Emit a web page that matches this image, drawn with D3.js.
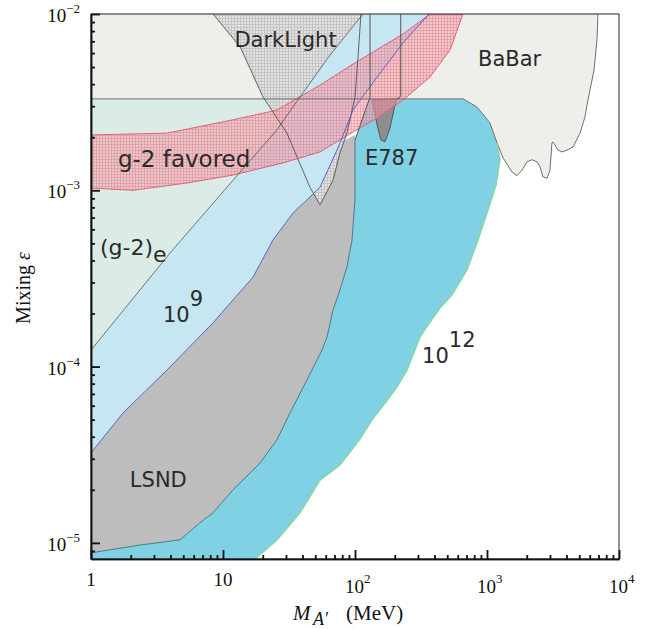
<!DOCTYPE html>
<html>
<head>
<meta charset="utf-8">
<script src="https://cdn.jsdelivr.net/npm/d3@7"></script>
<style>
  body { margin: 0; background: #fff; }
  .lab { font-family: "DejaVu Sans", sans-serif; fill: #2a2a2a; }
  .num { font-family: "Liberation Serif", "DejaVu Serif", serif; fill: #111; }
</style>
</head>
<body>
<div id="chart"></div>
<script>
// all points are [mass in MeV, mixing epsilon]

// lower edge of the (g-2)_e exclusion = upper edge of the 10^9 band
const gm2eEdge = [[1, 1.24e-4], [3.97, 4.41e-4], [11.9, 1.14e-3], [25.6, 2.2e-3], [38.3, 3.38e-3], [64.7, 5.85e-3], [115, 1e-2]]

// lower edge of the 10^9 band = upper edge of LSND
const band9Edge = [[1, 3.24e-5], [1.75, 5.46e-5], [3.77, 9.57e-5], [8.4, 1.77e-4], [11.9, 2.39e-4], [16.9, 3.22e-4], [23.9, 5.22e-4],
    [33.9, 7.43e-4], [45.6, 9.16e-4], [54.3, 1.04e-3], [73.1, 1.69e-3], [96.6, 2.85e-3], [147, 4.39e-3], [231, 6.85e-3], [364, 1e-2]]

const lsndTop = [[84, 1.93e-3], [100, 2.06e-3]]
const lsndLower = [[1, 8.77e-6], [2.35, 9.72e-6], [4.72, 1.04e-5], [6.69, 1.3e-5], [8.4, 1.48e-5], [11.9, 2e-5], [19.1, 2.84e-5],
    [25.6, 3.84e-5], [32.2, 5.46e-5], [43.3, 8.4e-5], [56.2, 1.24e-4], [61.4, 1.47e-4], [68.1, 2.09e-4], [76.9, 2.72e-4],
    [86.9, 3.67e-4], [94.9, 5.22e-4], [100, 8.82e-4], [100, 1.93e-3]]

// 10^12 contour, from its top left corner clockwise
const band12Edge = [[113, 2.51e-3], [130, 3.3e-3], [658, 3.3e-3], [839, 2.97e-3], [1054, 2.41e-3], [1190, 1.86e-3], [1254, 1.49e-3],
    [1170, 1.07e-3], [1018, 7.73e-4], [855, 5.22e-4], [705, 3.53e-4], [543, 2.55e-4], [440, 2.15e-4], [370, 1.79e-4],
    [311, 1.47e-4], [248, 9.57e-5], [208, 7.66e-5], [169, 6.22e-5], [135, 5.0e-5], [108, 3.84e-5], [76.9, 2.77e-5],
    [54.3, 2.27e-5], [38.3, 1.48e-5], [25.6, 1.04e-5], [17.5, 8.11e-6], [1, 8.11e-6]]

const babarEdge = [[1, 1e-2], [6927, 1e-2], [6813, 7.13e-3], [6470, 4.81e-3], [6030, 3.71e-3], [5725, 3.05e-3], [5523, 2.6e-3],
    [5066, 2.11e-3], [4484, 1.76e-3], [4036, 1.69e-3], [3700, 1.65e-3], [3451, 1.69e-3], [3162, 1.88e-3], [3105, 1.86e-3],
    [3000, 1.3e-3], [2849, 1.17e-3], [2655, 1.19e-3], [2523, 1.36e-3], [2393, 1.45e-3], [2193, 1.49e-3], [2009, 1.45e-3],
    [1841, 1.3e-3], [1688, 1.21e-3], [1547, 1.27e-3], [1321, 1.53e-3], [1190, 1.86e-3], [1054, 2.41e-3], [839, 2.97e-3],
    [658, 3.3e-3], [1, 3.3e-3]]

const darkLight = [[8.4, 1e-2], [13.5, 6.5e-3], [20.1, 3.38e-3], [30.5, 2.11e-3], [45.6, 1.04e-3], [54.3, 8.26e-4], [68.1, 1.14e-3],
    [76.9, 1.63e-3], [86.9, 2.11e-3], [100, 3.38e-3], [105, 5.48e-3], [111, 1e-2]]

const gm2Upper = [[1, 2.06e-3], [3.77, 2.11e-3], [11.9, 2.51e-3], [25.6, 2.85e-3], [54.3, 3.95e-3], [96.6, 5.2e-3], [231, 7.7e-3], [370, 1e-2]]
const gm2Lower = [[658, 1e-2], [525, 6.25e-3], [370, 4.39e-3], [231, 3.25e-3], [147, 2.57e-3], [96.6, 2.14e-3], [54.3, 1.65e-3],
    [28.5, 1.43e-3], [11.9, 1.22e-3], [5.34, 1.1e-3], [2.08, 1e-3], [1, 1.03e-3]]

const e787 = [[134.5, 3.25e-3], [147, 2.35e-3], [157, 1.93e-3], [169, 1.88e-3], [184, 2.25e-3], [201, 3.05e-3], [208, 3.3e-3]]
const sideLineA = [[130, 1e-2], [130, 3.38e-3], [113, 2.51e-3], [100, 1.93e-3]]
const sideLineB = [[222, 1e-2], [222, 3.4e-3], [208, 3.3e-3]]

const xDecades = [1, 10, 100, 1000, 10000]
const xLabels = [["1", ""], ["10", ""], ["10", "2"], ["10", "3"], ["10", "4"]]
const yDecades = [1e-2, 1e-3, 1e-4, 1e-5]
const yLabels = ["\u22122", "\u22123", "\u22124", "\u22125"]

const regionLabels = [
    { t: "DarkLight", m: 12.2, e: 6.5e-3, size: 21 },
    { t: "BaBar", m: 855, e: 5.07e-3, size: 21 },
    { t: "g-2 favored", m: 1.6, e: 1.355e-3, size: 23 },
    { t: "E787", m: 119, e: 1.39e-3, size: 21 },
    { t: "LSND", m: 1.97, e: 2.07e-5, size: 21 }
]

const width = 652, height = 629
const margin = { left: 91, right: 33, top: 14, bottom: 70 }

const x = d3.scaleLog().domain([1, 1e4]).range([margin.left, width - margin.right])
const y = d3.scaleLog().domain([8.1e-6, 1e-2]).range([height - margin.bottom, margin.top])

const svg = d3.select("#chart").append("svg")
    .attr("width", width)
    .attr("height", height)

const defs = svg.append("defs")
defs.append("clipPath").attr("id", "plotClip")
    .append("rect")
    .attr("x", x(1)).attr("y", y(1e-2))
    .attr("width", x(1e4) - x(1)).attr("height", y(8.1e-6) - y(1e-2))

const grayHatch = defs.append("pattern").attr("id", "grayHatch")
    .attr("width", 3).attr("height", 3).attr("patternUnits", "userSpaceOnUse")
grayHatch.append("rect").attr("width", 3).attr("height", 3).attr("fill", "#e3e3e3")
grayHatch.append("path").attr("d", "M0,0.5H3M0.5,0V3").attr("stroke", "#c4c4c4").attr("stroke-width", 1)

const pinkHatch = defs.append("pattern").attr("id", "pinkHatch")
    .attr("width", 3).attr("height", 3).attr("patternUnits", "userSpaceOnUse")
pinkHatch.append("rect").attr("width", 3).attr("height", 3).attr("fill", "rgba(244,160,170,0.5)")
pinkHatch.append("path").attr("d", "M0,0.5H3M0.5,0V3").attr("stroke", "rgba(225,105,125,0.35)").attr("stroke-width", 1)

const line = d3.line().x(d => x(d[0])).y(d => y(d[1]))
const area = pts => line(pts) + "Z"

const plot = svg.append("g").attr("clip-path", "url(#plotClip)")

// (g-2)_e excluded region
plot.append("path")
    .attr("d", area([[1, 1e-2]].concat(gm2eEdge)))
    .attr("fill", "#dbece6")

// BaBar
plot.append("path")
    .attr("d", area(babarEdge))
    .attr("fill", "#eeefeb")

// LSND
plot.append("path")
    .attr("d", area(band9Edge.slice(0, 11).concat(lsndTop, lsndLower.slice().reverse())))
    .attr("fill", "#bdbdbd")

// 10^12 contour
plot.append("path")
    .attr("d", area(lsndLower.concat(band12Edge)))
    .attr("fill", "#80d1e4")

plot.append("path")
    .attr("d", area(e787))
    .attr("fill", "#8e8e8e")
    .attr("stroke", "#444")
    .attr("stroke-width", 0.8)

// DarkLight reach
plot.append("path")
    .attr("d", area(darkLight))
    .attr("fill", "url(#grayHatch)")

// 10^9 band
plot.append("path")
    .attr("d", area(gm2eEdge.concat(band9Edge.slice().reverse())))
    .attr("fill", "#c6e6f2")

// g-2 favored band
plot.append("path")
    .attr("d", area(gm2Upper.concat(gm2Lower)))
    .attr("fill", "url(#pinkHatch)")
    .attr("stroke", "#e2607a")
    .attr("stroke-width", 1)

// outlines
const outline = (pts, color, w) => plot.append("path")
    .attr("d", line(pts))
    .attr("fill", "none")
    .attr("stroke", color)
    .attr("stroke-width", w)

outline(babarEdge.slice(1), "#6f6f6f", 1)
outline(gm2eEdge, "#555", 0.8)
outline(darkLight, "#444", 0.8)
outline(band9Edge, "#5b63c9", 1)
outline(lsndLower, "#35606e", 0.8)
outline(band12Edge.slice(5, 25), "#86d8a0", 1.5)
outline(sideLineA, "#555", 1)
outline(sideLineB, "#555", 1)

// region labels
regionLabels.forEach(d => {
    svg.append("text").attr("class", "lab")
        .attr("x", x(d.m)).attr("y", y(d.e))
        .style("font-size", d.size + "px")
        .text(d.t)
})

const ge = svg.append("text").attr("class", "lab")
    .attr("x", x(1.17)).attr("y", y(4.3e-4))
    .style("font-size", "22px")
ge.append("tspan").text("(g-2)")
ge.append("tspan").attr("dy", 7).text("e")

const powLabel = (m, e, sup) => {
    const t = svg.append("text").attr("class", "lab")
        .attr("x", x(m)).attr("y", y(e))
        .style("font-size", "21px")
    t.append("tspan").text("10")
    t.append("tspan").attr("dy", -16).text(sup)
}
powLabel(3.51, 1.79e-4, "9")
powLabel(322, 1.05e-4, "12")

// frame
svg.append("rect")
    .attr("x", x(1)).attr("y", y(1e-2))
    .attr("width", x(1e4) - x(1)).attr("height", y(8.1e-6) - y(1e-2))
    .attr("fill", "none")
    .attr("stroke", "#222")
    .attr("stroke-width", 1)

// ticks
let yMinor = []
let xMinor = []
for (let p = -6; p <= -3; p++) {
    for (let k = 2; k <= 9; k++) {
        let v = k * Math.pow(10, p)
        if (v >= 8.1e-6 && v < 1e-2) yMinor.push(v)
    }
}
for (let p = 0; p <= 3; p++) {
    for (let k = 2; k <= 9; k++) xMinor.push(k * Math.pow(10, p))
}

const tickStyle = g => {
    g.select(".domain").attr("stroke", "#111").attr("stroke-width", 1.5)
    g.selectAll(".tick line").attr("stroke", "#111").attr("stroke-width", 1.8)
    g.selectAll(".tick text").remove()
}

svg.append("g").attr("transform", `translate(${x(1)},0)`)
    .call(d3.axisLeft(y).tickValues(yMinor).tickSize(-4).tickSizeOuter(0))
    .call(tickStyle)
svg.append("g").attr("transform", `translate(${x(1)},0)`)
    .call(d3.axisLeft(y).tickValues(yDecades).tickSize(-9).tickSizeOuter(0))
    .call(tickStyle)
svg.append("g").attr("transform", `translate(0,${y(8.1e-6)})`)
    .call(d3.axisBottom(x).tickValues(xMinor).tickSize(-4).tickSizeOuter(0))
    .call(tickStyle)
svg.append("g").attr("transform", `translate(0,${y(8.1e-6)})`)
    .call(d3.axisBottom(x).tickValues(xDecades).tickSize(-9).tickSizeOuter(0))
    .call(tickStyle)

// tick labels
yDecades.forEach((v, i) => {
    const t = svg.append("text").attr("class", "num")
        .attr("x", 80).attr("y", y(v) + 8)
        .attr("text-anchor", "end")
        .style("font-size", "19px")
    t.append("tspan").text("10")
    t.append("tspan").attr("dy", -9).style("font-size", "13px").text(yLabels[i])
})

xDecades.forEach((v, i) => {
    const lab = xLabels[i]
    const t = svg.append("text").attr("class", "num")
        .style("font-size", "19px")
    if (lab[1] === "") {
        t.attr("x", x(v)).attr("y", 586).attr("text-anchor", "middle").text(lab[0])
    } else {
        t.attr("x", x(v) - 10).attr("y", 593)
        t.append("tspan").text(lab[0])
        t.append("tspan").attr("dy", -10).style("font-size", "13px").text(lab[1])
    }
})

// axis titles
const xt = svg.append("text").attr("class", "num")
    .attr("x", 293).attr("y", 620)
    .style("font-size", "21px")
xt.append("tspan").style("font-style", "italic").text("M")
xt.append("tspan").attr("x", 313).style("font-style", "italic").style("font-size", "18px").attr("dy", 5).text("A\u2032")
xt.append("tspan").attr("x", 346).attr("dy", -5).text("(MeV)")

const yt = svg.append("text").attr("class", "num")
    .attr("transform", "translate(30,288) rotate(-90)")
    .attr("text-anchor", "middle")
    .style("font-size", "20px")
yt.append("tspan").text("Mixing ")
yt.append("tspan").style("font-style", "italic").text("\u03b5")
</script>
</body>
</html>
